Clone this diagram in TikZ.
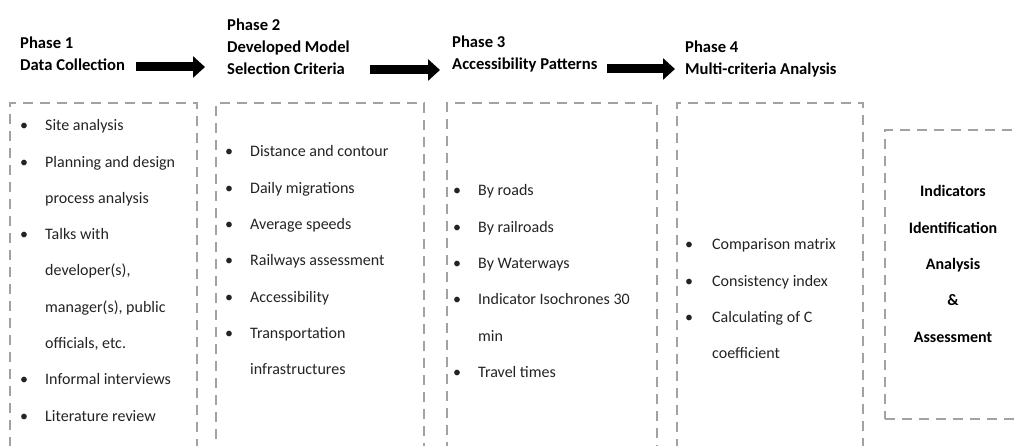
\documentclass[tikz,border=0pt]{standalone}
\usepackage{fontspec}
\setmainfont{Carlito}
\usetikzlibrary{arrows.meta}
\definecolor{boxgray}{RGB}{160,163,166}
\definecolor{txt}{RGB}{35,35,35}
\begin{document}
\begin{tikzpicture}[x=1pt,y=-1pt,
  dbox/.style={draw=boxgray, line width=2.4pt, dash pattern=on 10pt off 7pt, anchor=north west, inner sep=0pt, outer sep=0pt},
  ptitle/.style={font=\fontsize{16.6}{22}\selectfont\bfseries, anchor=base west, inner sep=0pt, align=left},
  item/.style={font=\fontsize{16}{18}\selectfont, text=txt, anchor=base west, inner sep=0pt},
  bul/.style={font=\fontsize{16}{18}\selectfont, text=txt, anchor=base west, inner sep=0pt},
  ctext/.style={font=\fontsize{16}{18}\selectfont\bfseries, anchor=base, inner sep=0pt},
  blockarrow/.style={line width=9pt, -{Triangle[length=12pt,width=21pt]}}]
\useasboundingbox (0,0) rectangle (1019,446);
\clip (0,0) rectangle (1019,446);

% phase titles (anchor = baseline of the last line)
\node[ptitle] (p1) at (20,71) {Phase 1\\Data Collection};
\node[ptitle] (p2) at (227,75) {Phase 2\\Developed Model\\Selection Criteria};
\node[ptitle] (p3) at (452,70) {Phase 3\\Accessibility Patterns};
\node[ptitle] (p4) at (685,75) {Phase 4\\Multi-criteria Analysis};

% block arrows
\coordinate (a1s) at (136,67); \coordinate (a1e) at (205,67);
\coordinate (a2s) at (370,70); \coordinate (a2e) at (440,70);
\coordinate (a3s) at (607,69); \coordinate (a3e) at (675,69);
\draw[blockarrow] (a1s) -- (a1e);
\draw[blockarrow] (a2s) -- (a2e);
\draw[blockarrow] (a3s) -- (a3e);

% boxes
\node[dbox, minimum width=187pt, minimum height=380pt] (box1) at (10,103) {};
\node[dbox, minimum width=208pt, minimum height=380pt] (box2) at (216,103) {};
\node[dbox, minimum width=210pt, minimum height=380pt] (box3) at (447,103) {};
\node[dbox, minimum width=186pt, minimum height=380pt] (box4) at (677,103) {};
\node[dbox, minimum width=140pt, minimum height=289pt] (box5) at (885,130) {};

% box 1
\foreach \t/\b [count=\i from 0] in {Site analysis/1, Planning and design/1, process analysis/0, Talks with/1, {developer(s),}/0, {manager(s), public}/0, {officials, etc.}/0, Informal interviews/1, Literature review/1}{
  \node[item] (ba\i) at (45,{131+36.25*\i}) {\t};
  \ifnum\b=1 \node[bul] (bua\i) at (20,{131+36.25*\i}) {\textbullet}; \fi
}
% box 2
\foreach \t/\b [count=\i from 0] in {Distance and contour/1, Daily migrations/1, Average speeds/1, Railways assessment/1, Accessibility/1, Transportation/1, infrastructures/0}{
  \node[item] (bb\i) at (250,{157+36.25*\i}) {\t};
  \ifnum\b=1 \node[bul] (bub\i) at (225,{157+36.25*\i}) {\textbullet}; \fi
}
% box 3
\foreach \t/\b [count=\i from 0] in {By roads/1, By railroads/1, By Waterways/1, Indicator Isochrones 30/1, min/0, Travel times/1}{
  \node[item] (bc\i) at (478,{196+36.25*\i}) {\t};
  \ifnum\b=1 \node[bul] (buc\i) at (453,{196+36.25*\i}) {\textbullet}; \fi
}
% box 4
\foreach \t/\b [count=\i from 0] in {Comparison matrix/1, Consistency index/1, Calculating of C/1, coefficient/0}{
  \node[item] (bd\i) at (712,{250+36.25*\i}) {\t};
  \ifnum\b=1 \node[bul] (bud\i) at (685,{250+36.25*\i}) {\textbullet}; \fi
}
% box 5
\foreach \t [count=\i from 0] in {Indicators, Identification, Analysis, \&, Assessment}{
  \node[ctext] (be\i) at (953,{197+36.25*\i}) {\t};
}
\end{tikzpicture}
\end{document}
